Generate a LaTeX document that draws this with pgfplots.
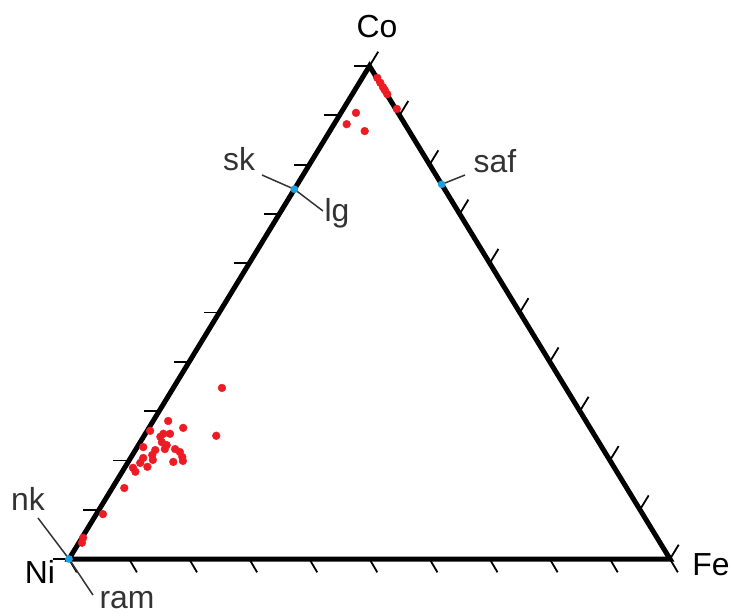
\documentclass[border=0pt]{standalone}
\usepackage{pgfplots}
\pgfplotsset{compat=1.18}
\usepackage{pgfplotstable}
\usepackage{fontspec}
\setmainfont{Liberation Sans}
\definecolor{ptred}{RGB}{237,28,36}
\definecolor{ptblue}{RGB}{27,161,226}
\definecolor{lblgray}{RGB}{51,51,51}
\tikzset{
  lbl/.style={font=\fontsize{32}{32}\selectfont, text=lblgray, anchor=base, inner sep=0pt},
  vlbl/.style={font=\fontsize{32}{32}\selectfont, text=black, anchor=base, inner sep=0pt},
}

% red analyses: Co and Fe fractions (Ni = 1 - Co - Fe)
\pgfplotstableread{
Co Fe
0.976 0.025
0.966 0.035
0.957 0.044
0.951 0.050
0.943 0.058
0.913 0.089
0.905 0.025
0.882 0.021
0.868 0.058
0.347 0.081
0.250 0.120
0.280 0.025
0.266 0.057
0.260 0.005
0.254 0.030
0.254 0.041
0.248 0.028
0.237 0.036
0.231 0.047
0.223 0.048
0.221 0.033
0.227 0.010
0.223 0.065
0.217 0.076
0.207 0.085
0.199 0.090
0.197 0.075
0.211 0.033
0.201 0.039
0.205 0.021
0.195 0.021
0.187 0.037
0.185 0.014
0.177 0.022
0.144 0.020
0.091 0.011
0.043 0.002
0.033 0.005
}\redpts

% reference minerals
\pgfplotstableread{
Co Fe
0.75 0.00
0.76 0.24
0.00 0.00
}\bluepts

\pgfplotstableread{
x y u v
0.00 0.0 -0.026 0
0.05 0.1 -0.026 0
0.10 0.2 -0.026 0
0.15 0.3 -0.026 0
0.20 0.4 -0.026 0
0.25 0.5 -0.026 0
0.30 0.6 -0.026 0
0.35 0.7 -0.026 0
0.40 0.8 -0.026 0
0.45 0.9 -0.026 0
0.50 1.0 -0.026 0
}\lefttix

\pgfplotstableread{
x y u v
1.00 0.0 0.0145 0.029
0.95 0.1 0.0145 0.029
0.90 0.2 0.0145 0.029
0.85 0.3 0.0145 0.029
0.80 0.4 0.0145 0.029
0.75 0.5 0.0145 0.029
0.70 0.6 0.0145 0.029
0.65 0.7 0.0145 0.029
0.60 0.8 0.0145 0.029
0.55 0.9 0.0145 0.029
0.50 1.0 0.0145 0.029
}\righttix

\pgfplotstableread{
x y u v
0.0 0 0.013 -0.027
0.1 0 0.013 -0.027
0.2 0 0.013 -0.027
0.3 0 0.013 -0.027
0.4 0 0.013 -0.027
0.5 0 0.013 -0.027
0.6 0 0.013 -0.027
0.7 0 0.013 -0.027
0.8 0 0.013 -0.027
0.9 0 0.013 -0.027
1.0 0 0.013 -0.027
}\bottomtix

\begin{document}
\begin{tikzpicture}
\begin{axis}[
  width=733bp, height=616bp, scale only axis,
  xmin=-0.1148, xmax=1.1048, ymin=-0.1156, ymax=1.1339,
  axis line style={draw=none}, xtick=\empty, ytick=\empty,
  clip=false,
]
% triangle
\addplot[black, line width=5bp, line join=miter, no markers] coordinates {(0,0) (1,0) (0.5,1) (0,0) (1,0)};
% ticks
\addplot[black, line width=1.8bp, no markers, quiver={u=\thisrow{u}, v=\thisrow{v}}] table {\lefttix};
\addplot[black, line width=1.8bp, no markers, quiver={u=\thisrow{u}, v=\thisrow{v}}] table {\righttix};
\addplot[black, line width=1.8bp, no markers, quiver={u=\thisrow{u}, v=\thisrow{v}}] table {\bottomtix};
% label leaders
\addplot[lblgray, line width=1.5bp, no markers] coordinates {(0.3211,0.7789) (0.375,0.75)};
\addplot[lblgray, line width=1.5bp, no markers] coordinates {(0.375,0.75) (0.4226,0.7059)};
\addplot[lblgray, line width=1.5bp, no markers] coordinates {(0.62,0.76) (0.6589,0.7789)};
\addplot[lblgray, line width=1.5bp, no markers] coordinates {(-0.0516,0.0832) (0,0)};
\addplot[lblgray, line width=1.5bp, no markers] coordinates {(0,0) (0.0399,-0.073)};
% points
\addplot[ptblue, only marks, mark=*, mark size=3.6bp, mark options={solid, fill=ptblue, draw=ptblue}] table[x expr=\thisrow{Fe}+0.5*\thisrow{Co}, y=Co] {\bluepts};
\addplot[ptred, only marks, mark=*, mark size=3.9bp, mark options={solid, fill=ptred, draw=ptred}] table[x expr=\thisrow{Fe}+0.5*\thisrow{Co}, y=Co] {\redpts};
% labels
\node[vlbl] at (axis cs:0.5125,1.0588) {Co};
\node[vlbl] at (axis cs:-0.0483,-0.0487) {Ni};
\node[vlbl] at (axis cs:1.0682,-0.0325) {Fe};
\node[lbl] at (axis cs:0.2829,0.789) {sk};
\node[lbl] at (axis cs:0.4459,0.6836) {lg};
\node[lbl] at (axis cs:0.7088,0.783) {saf};
\node[lbl] at (axis cs:-0.0682,0.0994) {nk};
\node[lbl] at (axis cs:0.0965,-0.0994) {ram};
\end{axis}
\end{tikzpicture}
\end{document}
